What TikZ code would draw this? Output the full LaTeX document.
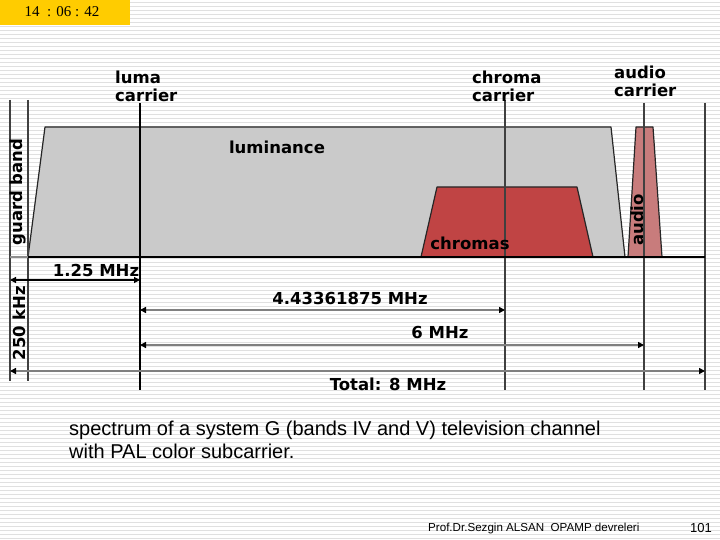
\documentclass[tikz,border=0pt]{standalone}
\usepackage{fontspec}
\setmainfont{Liberation Sans}
\newfontfamily\dv{DejaVu Sans}
\newfontfamily\tms{Liberation Serif}
\usetikzlibrary{arrows.meta}
\definecolor{lumgray}{HTML}{CACACA}
\definecolor{chred}{HTML}{C04444}
\definecolor{aupink}{HTML}{C87C7C}
\definecolor{tbar}{HTML}{FFCC00}
\tikzset{
  lbl/.style={font=\dv\bfseries\fontsize{16.5}{18}\selectfont, inner sep=0pt, align=left},
  vline/.style={draw=black!75, line width=1.4pt},
  dim/.style={draw=black!50, line width=2pt, {Triangle[length=6pt,width=6pt,color=black]}-{Triangle[length=6pt,width=6pt,color=black]}},
  band/.style={draw=black!85, line width=1.2pt, line join=round},
}
\begin{document}
\begin{tikzpicture}[x=1pt,y=-1pt]
\useasboundingbox (0,0) rectangle (720,540);
\fill[white] (0,0) rectangle (720,540);
\foreach \i in {0,...,134} { \draw[black!12, line width=0.7pt] (0,{\i*4+2}) -- (720,{\i*4+2}); }
% time bar
\fill[tbar] (0,0) rectangle (130,25);
\node[font=\tms\fontsize{15}{17}\selectfont, inner sep=0pt] (time) at (62,12) {14 \ : 06 : 42};
% bands
\filldraw[band, fill=lumgray] (28,257) -- (45,127) -- (611,127) -- (625,257);
\filldraw[band, fill=chred] (421,257) -- (437,187) -- (577,187) -- (593,257);
\filldraw[band, fill=aupink] (628,257) -- (636,127) -- (653,127) -- (662,257);
% vertical lines
\coordinate (l1t) at (10,100); \coordinate (l1b) at (10,381);
\coordinate (l2t) at (28,100); \coordinate (l2b) at (28,381);
\coordinate (lct) at (140,103); \coordinate (lcb) at (140,390);
\coordinate (cct) at (505,100); \coordinate (ccb) at (505,390);
\coordinate (act) at (644,103); \coordinate (acb) at (644,390);
\coordinate (rt) at (705,103); \coordinate (rb) at (705,390);
\draw[vline] (l1t) -- (l1b);
\draw[vline] (l2t) -- (l2b);
\draw[black, line width=1.6pt] (lct) -- (lcb);
\draw[vline] (cct) -- (ccb);
\draw[vline] (act) -- (acb);
\draw[vline] (rt) -- (rb);
% baseline
\draw[black!45, line width=2.5pt] (10,257) -- (28,257);
\draw[black, line width=2pt] (28,257) -- (705,257);
% labels
\node[lbl, anchor=north west] (luma) at (115,71) {luma\\carrier};
\node[lbl, anchor=north west] (chroma) at (472,71) {chroma\\carrier};
\node[lbl, anchor=north west] (audioc) at (614,66) {audio\\carrier};
\node[lbl] (lum) at (277,147) {luminance};
\node[lbl] (chr) at (470,243) {chromas};
\node[lbl, rotate=90] (aud) at (637,220) {audio};
\node[lbl, rotate=90] (guard) at (18,192) {guard band};
\node[lbl, rotate=90] (k250) at (19,323) {250 kHz};
% dimension arrows
\coordinate (a1l) at (10,280); \coordinate (a1r) at (140,280);
\draw[black, line width=1.2pt, {Triangle[length=6pt,width=6pt]}-{Triangle[length=6pt,width=6pt]}] (a1l) -- (a1r);
\node[lbl] (m125) at (96,270) {1.25 MHz};
\coordinate (a2l) at (140,310); \coordinate (a2r) at (505,310);
\draw[dim] (a2l) -- (a2r);
\node[lbl] (m443) at (350,298) {4.43361875 MHz};
\coordinate (a3l) at (140,345); \coordinate (a3r) at (644,345);
\draw[dim] (a3l) -- (a3r);
\node[lbl] (m6) at (440,333) {6 MHz};
\coordinate (a4l) at (10,371); \coordinate (a4r) at (705,371);
\draw[dim] (a4l) -- (a4r);
\node[lbl] (tot) at (388,384) {Total: 8 MHz};
% caption
\node[font=\fontsize{20}{23}\selectfont, anchor=north west, align=left, inner sep=0pt] (cap) at (69,421) {spectrum of a system G (bands IV and V) television channel\\with PAL color subcarrier.};
\node[font=\fontsize{11.6}{13}\selectfont, anchor=west, inner sep=0pt] (foot) at (428,528) {Prof.Dr.Sezgin ALSAN\ \ OPAMP devreleri};
\node[font=\fontsize{13}{15}\selectfont, anchor=east, inner sep=0pt] (pg) at (712,528) {101};
\end{tikzpicture}
\end{document}
